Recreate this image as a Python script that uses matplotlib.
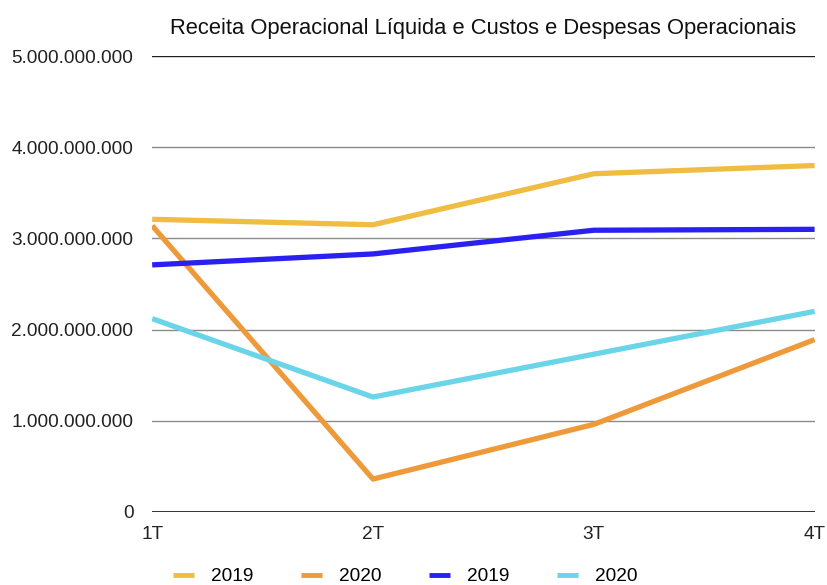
import matplotlib.pyplot as plt
from matplotlib.ticker import FuncFormatter

plt.rcParams['font.family'] = ['Liberation Sans', 'DejaVu Sans']

quarters = ["1T", "2T", "3T", "4T"]
receita_2019 = [3.21e9, 3.15e9, 3.71e9, 3.80e9]
receita_2020 = [3.14e9, 0.36e9, 0.96e9, 1.89e9]
custos_2019 = [2.71e9, 2.83e9, 3.09e9, 3.10e9]
custos_2020 = [2.12e9, 1.26e9, 1.73e9, 2.20e9]

series = [
    ("2019", receita_2019, "#F0BC42"),
    ("2020", receita_2020, "#EE9A3A"),
    ("2019", custos_2019, "#2B20F2"),
    ("2020", custos_2020, "#6AD5E8"),
]

fig = plt.figure(figsize=(8.27, 5.85), dpi=100)
ax = fig.add_axes([0.184, 0.125, 0.801, 0.779])

x = range(len(quarters))
for label, vals, color in series:
    ax.plot(x, vals, color=color, lw=3.8, label=label, solid_capstyle="butt",
            solid_joinstyle="round", zorder=3)

ax.set_xlim(0, len(quarters) - 1)
ax.set_ylim(0, 5e9)
ax.set_yticks([0, 1e9, 2e9, 3e9, 4e9, 5e9])
ax.yaxis.set_major_formatter(FuncFormatter(lambda v, p: f"{int(v):,}".replace(",", ".")))
ax.set_xticks(list(x))
ax.set_xticklabels(quarters)

for v in [1e9, 2e9, 3e9, 4e9]:
    ax.axhline(v, color="#8a8a8a", lw=1.0, zorder=1)
ax.axhline(5e9, color="#222222", lw=1.0, zorder=1)
ax.axhline(0, color="#222222", lw=1.3, zorder=1)

for s in ax.spines.values():
    s.set_visible(False)
ax.tick_params(axis="both", length=0, labelsize=13.7, colors="#222222")
ax.tick_params(axis="y", pad=13.5)
ax.tick_params(axis="x", pad=10)

ax.set_title("Receita Operacional Líquida e Custos e Despesas Operacionais",
             fontsize=15.8, color="#111111", pad=16)

leg = fig.legend(loc="lower center", bbox_to_anchor=(0.49, -0.03), ncol=4,
                 frameon=False, fontsize=13.7, handlelength=1.1,
                 columnspacing=2.5, handletextpad=0.9)
for h in leg.get_lines():
    h.set_linewidth(3.5)

fig.savefig("out.png", dpi=100)
